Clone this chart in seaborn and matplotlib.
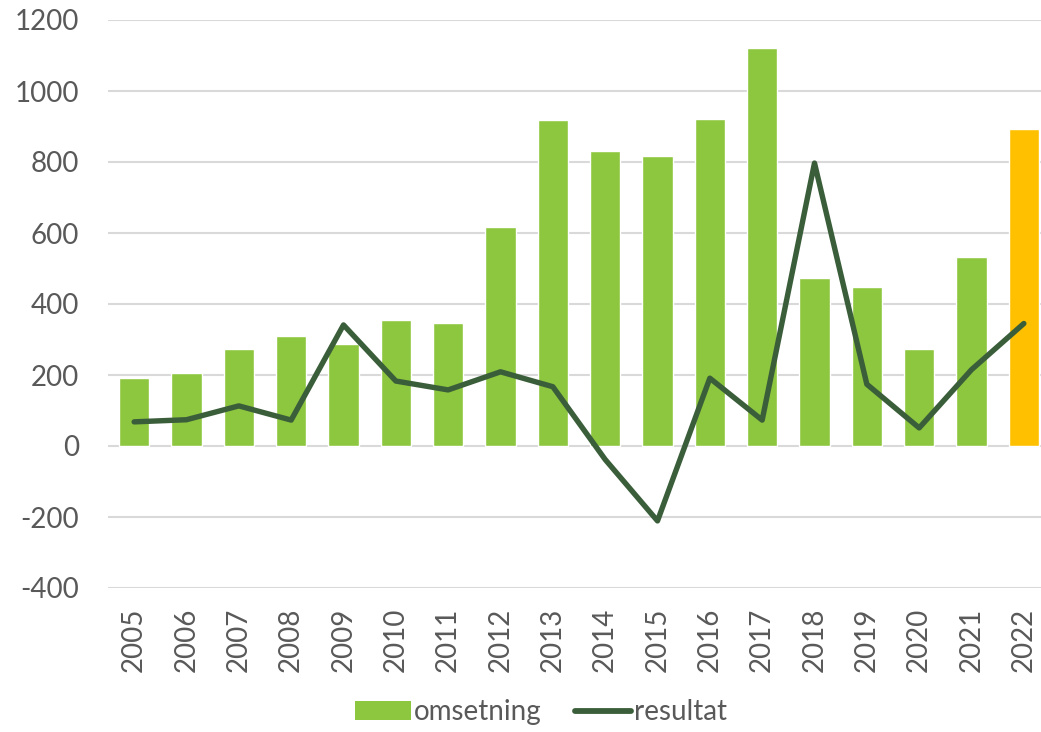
import numpy as np
import pandas as pd
import matplotlib
matplotlib.use("Agg")
import matplotlib.pyplot as plt
import seaborn as sns
from matplotlib.patches import Patch
from matplotlib.lines import Line2D

years = [str(y) for y in range(2005, 2023)]
omsetning = [191, 206, 273, 310, 287, 355, 346, 617, 918, 831, 817, 921, 1121, 473, 448, 273, 532, 893]
resultat = [68, 74, 113, 73, 341, 183, 158, 209, 167, -38, -211, 191, 73, 797, 174, 51, 215, 345]

green = "#8DC63F"
orange = "#FFC000"
line_col = "#3B5E3A"
text_col = "#595959"

df = pd.DataFrame({"year": years, "omsetning": omsetning, "resultat": resultat})
bar_colors = [green] * (len(years) - 1) + [orange]

sns.set_theme(style="white")
plt.rcParams['font.family'] = ['Lato', 'DejaVu Sans']
plt.rcParams['axes.unicode_minus'] = False

fig = plt.figure(figsize=(10.41, 7.32), dpi=100)
# plot area runs slightly past the right edge of the picture, as in the reference
ax = fig.add_axes([108 / 1041, 1 - 588 / 732, 942 / 1041, (588 - 20) / 732])

sns.barplot(data=df, x="year", y="omsetning", hue="year", palette=bar_colors,
            legend=False, width=0.58, saturation=1, ax=ax)
sns.lineplot(x=np.arange(len(df)), y=df["resultat"], color=line_col, linewidth=3.9,
             ax=ax, zorder=5)

ax.set_ylim(-400, 1200)
ax.set_xlim(-0.5, len(years) - 0.5)
ax.set_yticks(range(-400, 1201, 200))
ax.yaxis.grid(True, color="#D9D9D9", linewidth=1.5)
ax.set_axisbelow(True)
for s in ax.spines.values():
    s.set_visible(False)
ax.set_xlabel("")
ax.set_ylabel("")
ax.tick_params(axis="both", length=0, labelsize=20, colors=text_col)
ax.tick_params(axis="x", pad=14)
ax.tick_params(axis="y", pad=21)
for lbl in ax.get_xticklabels():
    lbl.set_rotation(90)

handles = [Patch(facecolor=green, edgecolor="none"),
           Line2D([0], [0], color=line_col, linewidth=4.2)]
fig.legend(handles, ["omsetning", "resultat"], loc="lower center", ncol=2,
           frameon=False, bbox_to_anchor=(0.52, -0.025), fontsize=20,
           handlelength=2.0, handletextpad=0.12, columnspacing=1.2,
           labelcolor=text_col)

fig.savefig("out.png", dpi=100)
